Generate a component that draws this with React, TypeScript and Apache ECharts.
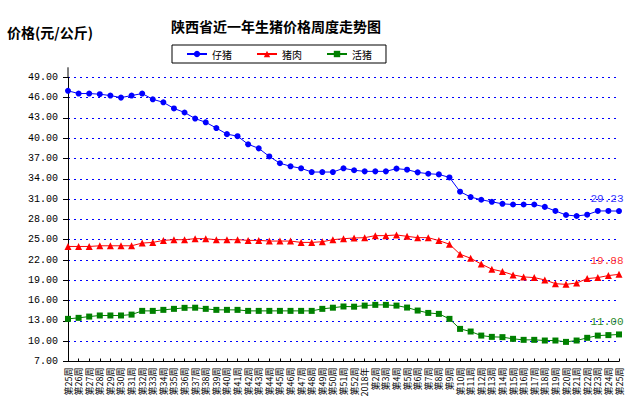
import React, { useEffect, useRef } from "react";
import * as echarts from "echarts";

const weekLabels: string[] = [
  "第25周", "第26周", "第27周", "第28周", "第29周", "第30周", "第31周", "第32周", "第33周", "第34周",
  "第35周", "第36周", "第37周", "第38周", "第39周", "第40周", "第41周", "第42周", "第43周", "第44周",
  "第45周", "第46周", "第47周", "第48周", "第49周", "第50周", "第51周", "第52周", "2018年", "第2周",
  "第3周", "第4周", "第5周", "第6周", "第7周", "第8周", "第9周", "第10周", "第11周", "第12周",
  "第13周", "第14周", "第15周", "第16周", "第17周", "第18周", "第19周", "第20周", "第21周", "第22周",
  "第23周", "第24周", "第25周",
];

const piglet: number[] = [
  47.0, 46.6, 46.6, 46.5, 46.3, 46.0, 46.3, 46.6, 45.75, 45.3,
  44.4, 43.8, 42.9, 42.35, 41.5, 40.6, 40.3, 39.1, 38.5, 37.3,
  36.3, 35.85, 35.55, 35.0, 35.0, 35.0, 35.55, 35.26, 35.1, 35.1,
  35.1, 35.5, 35.35, 34.95, 34.75, 34.65, 34.2, 32.1, 31.3, 30.9,
  30.6, 30.3, 30.2, 30.2, 30.2, 29.85, 29.25, 28.65, 28.5, 28.7,
  29.25, 29.25, 29.23,
];

const pork: number[] = [
  24.0, 24.0, 24.0, 24.1, 24.1, 24.1, 24.1, 24.5, 24.6, 24.9,
  25.0, 25.0, 25.15, 25.15, 25.0, 25.0, 25.0, 24.9, 24.9, 24.8,
  24.8, 24.8, 24.6, 24.6, 24.7, 25.0, 25.15, 25.25, 25.3, 25.6,
  25.6, 25.7, 25.5, 25.3, 25.3, 24.87, 24.33, 22.85, 22.26, 21.4,
  20.64, 20.3, 19.8, 19.5, 19.4, 19.06, 18.5, 18.4, 18.6, 19.25,
  19.4, 19.7, 19.88,
];

const livePig: number[] = [
  13.3, 13.45, 13.64, 13.8, 13.8, 13.8, 13.93, 14.48, 14.48, 14.63,
  14.78, 14.93, 14.95, 14.78, 14.63, 14.63, 14.63, 14.48, 14.48, 14.48,
  14.48, 14.48, 14.48, 14.48, 14.78, 14.95, 15.13, 15.1, 15.26, 15.37,
  15.37, 15.26, 14.97, 14.53, 14.18, 14.04, 13.3, 11.82, 11.43, 10.83,
  10.64, 10.6, 10.35, 10.2, 10.2, 10.1, 10.1, 9.9, 10.1, 10.5,
  10.83, 10.9, 11.0,
];

const yMin = 7;
const yMax = 49;
const yInterval = 3;

const mono = "'Liberation Mono', 'DejaVu Sans Mono', monospace";
const cjk = "'Noto Sans CJK SC', 'Noto Sans', sans-serif";

function withEndLabel(values: number[], color: string) {
  return values.map((v, i) =>
    i === values.length - 1
      ? {
          value: v,
          label: {
            show: true,
            position: "top",
            distance: 4,
            offset: [-12, 0],
            color,
            fontFamily: mono,
            fontSize: 11,
            formatter: (p: any) => Number(p.value).toFixed(2),
          },
        }
      : v
  );
}

export default function App() {
  const ref = useRef<HTMLDivElement>(null);

  useEffect(() => {
    if (!ref.current) return;
    const chart = echarts.init(ref.current, undefined, { renderer: "svg" });
    const option: any = {
      animation: false,
      backgroundColor: "#ffffff",
      title: [
        {
          text: "陕西省近一年生猪价格周度走势图",
          left: 276,
          textAlign: "center",
          top: 19,
          padding: 0,
          textStyle: { fontFamily: cjk, fontSize: 14, fontWeight: "bold", color: "#000" },
        },
        {
          text: "价格(元/公斤)",
          left: 7,
          top: 25,
          padding: 0,
          textStyle: { fontFamily: cjk, fontSize: 14, fontWeight: "bold", color: "#000" },
        },
      ],
      legend: {
        left: 172,
        top: 45,
        padding: [4, 14, 4, 14],
        itemWidth: 20,
        itemHeight: 8,
        itemGap: 24,
        borderColor: "#000",
        borderWidth: 1,
        textStyle: { fontFamily: cjk, fontSize: 10, color: "#000" },
        data: ["仔猪", "猪肉", "活猪"],
      },
      grid: { left: 68, right: 14, top: 77.3, bottom: 48.5, containLabel: false },
      xAxis: {
        type: "category",
        data: weekLabels,
        boundaryGap: false,
        axisLine: { lineStyle: { color: "#000", width: 1 } },
        axisTick: { show: true, inside: true, length: 3, alignWithLabel: true, lineStyle: { color: "#000" } },
        axisLabel: {
          interval: 0,
          rotate: 90,
          margin: 6,
          fontFamily: cjk,
          fontSize: 9,
          color: "#000",
        },
        splitLine: { show: false },
      },
      yAxis: {
        type: "value",
        min: yMin,
        max: yMax,
        interval: yInterval,
        axisLine: { show: true, lineStyle: { color: "#000", width: 1 } },
        axisTick: { show: true, inside: false, length: 5, lineStyle: { color: "#000" } },
        axisLabel: {
          margin: 10,
          fontFamily: mono,
          fontSize: 10,
          color: "#000",
          formatter: (v: number) => v.toFixed(2),
        },
        splitLine: { show: true, lineStyle: { color: "#0000ff", width: 1, type: [2, 4] } },
      },
      series: [
        {
          name: "仔猪",
          type: "line",
          data: withEndLabel(piglet, "#3333ff"),
          symbol: "circle",
          symbolSize: 6,
          showAllSymbol: true,
          itemStyle: { color: "#0000ff" },
          lineStyle: { color: "#0000ff", width: 1 },
        },
        {
          name: "猪肉",
          type: "line",
          data: withEndLabel(pork, "#ff3333"),
          symbol: "triangle",
          symbolSize: 7,
          showAllSymbol: true,
          itemStyle: { color: "#ff0000" },
          lineStyle: { color: "#ff0000", width: 1 },
        },
        {
          name: "活猪",
          type: "line",
          data: withEndLabel(livePig, "#2a8a2a"),
          symbol: "rect",
          symbolSize: 6,
          showAllSymbol: true,
          itemStyle: { color: "#008000" },
          lineStyle: { color: "#008000", width: 1 },
        },
      ],
    };
    chart.setOption(option);
    const top = chart.convertToPixel({ gridIndex: 0 }, [0, yMax]) as number[];
    if (top && top.length === 2) {
      chart.setOption({
        graphic: [
          {
            type: "line",
            shape: { x1: top[0], y1: top[1] - 10, x2: top[0], y2: top[1] },
            style: { stroke: "#000", lineWidth: 1 },
            silent: true,
          },
        ],
      });
    }
    return () => chart.dispose();
  }, []);

  return <div ref={ref} style={{ width: 633, height: 410, position: "absolute", left: 0, top: 0 }} />;
}
